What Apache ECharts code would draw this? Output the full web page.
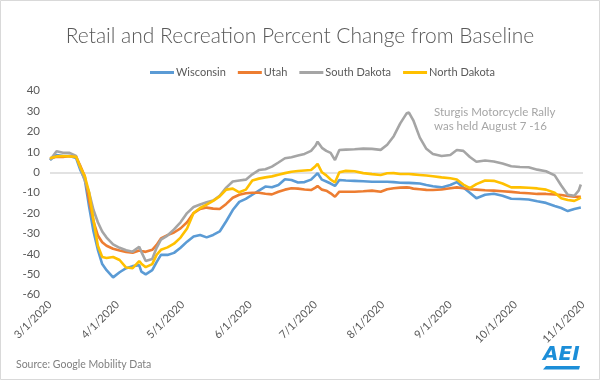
<!DOCTYPE html>
<html>
<head>
<meta charset="utf-8">
<script src="https://cdn.jsdelivr.net/npm/echarts@6/dist/echarts.min.js"></script>
<style>html,body{margin:0;padding:0;background:#fff}#c{width:600px;height:380px}</style>
</head>
<body>
<div id="c"></div>
<script>
// Days since 3/1/2020 at which values were read
var dayOffsets = [0,3,6,9,12,14,16,18,20,22,24,26,29,32,35,38,41,42,44,47,49,51,54,57,60,63,66,69,72,75,78,81,84,87,90,93,96,99,102,105,108,111,114,117,120,122,123,125,127,129,131,133,136,140,144,148,152,155,158,161,164,165,167,170,173,176,180,184,187,190,193,196,200,204,208,212,216,220,224,228,232,235,238,241,243,244];

var wisconsin = [6,8.5,8,8,7,1,-3.5,-17,-29,-38,-45,-48,-51.5,-49,-47,-46,-45.5,-48.7,-50,-48,-44,-40.5,-40.5,-39.5,-37,-34,-31.5,-30.7,-31.9,-30.7,-29,-24,-18.5,-14.5,-13,-11,-9,-7,-7.3,-6.2,-3.4,-3.8,-5,-4.8,-3.6,-1.5,-0.5,-3.6,-4.5,-5.5,-6.7,-3.8,-4,-4.2,-4.4,-4.6,-4.6,-4.6,-4.8,-5.1,-5.2,-5.2,-5.3,-5.5,-6.2,-6.8,-7.4,-6.2,-4.8,-7.5,-10,-12.7,-11,-10.5,-11.5,-13,-13.1,-13.3,-14.2,-15,-16.5,-17.5,-19,-18,-17.5,-17.3];

var utah = [6.9,7.6,7.5,8,7.5,3,-2,-14,-24,-31,-34.3,-36,-37.5,-38.3,-39,-39.4,-38.3,-38.6,-39,-38,-35.6,-32.4,-30.8,-29.5,-27.5,-24.5,-20,-18,-17.3,-17.8,-18,-15.5,-12.5,-11,-10.3,-10,-10,-10.5,-10.8,-9.5,-8.5,-7.8,-8,-8.4,-8.7,-7.5,-6.7,-8.5,-9,-10.3,-12,-9.5,-9.5,-9.5,-9.3,-9,-9.5,-8.3,-7.8,-7.5,-7.4,-7.5,-8,-8.3,-8.6,-8.7,-8.4,-7.8,-7.4,-7.8,-8.3,-8.5,-8.8,-9,-9.3,-9.6,-10,-10.3,-10.6,-10.6,-10.9,-11.1,-11.6,-12,-12,-12];

var southDakota = [6,10.3,9.6,9.5,8,2,-4,-10,-18.5,-24.5,-29,-32,-35.3,-37,-38.2,-38.9,-36.5,-39,-43.5,-42.5,-37,-33,-31,-28,-24.5,-20,-17,-15.8,-14.7,-13.8,-11.5,-7.5,-4.5,-4,-3.6,-1,1.1,1.5,2.8,4.8,6.9,7.4,8.2,9,10.5,13,15,12,10.5,9.5,6,10.9,11.1,11.3,11.6,11.5,11,13.5,17.7,24,29,29.3,25.5,17,11.5,9,8,8.5,10.9,10.5,7.5,5.2,5.8,5.3,4.3,3,2.6,2.5,1.3,0.5,-1.5,-6.5,-11,-11.5,-9,-6];

var northDakota = [6.9,7.8,8,7.8,7.6,2.5,-2,-10,-23.5,-36,-41.5,-42,-41.5,-43,-46.7,-47,-43.5,-44.8,-46.5,-45,-40.5,-38,-36.8,-35,-32,-27.5,-20,-17.5,-15.8,-14,-11.8,-8.5,-8,-9.8,-8.5,-4,-3.1,-2.5,-2,-1.2,-0.4,0.3,0.6,0.9,1.1,3,4.1,0,-1.5,-3.5,-5,0,0.7,0.5,-0.4,-0.9,-1.3,-0.5,-0.4,-0.8,-0.8,-0.8,-1,-1.3,-1.6,-1.9,-2.5,-2.9,-3.5,-6,-7.8,-5.8,-4,-4.2,-5.5,-7.4,-7.4,-7.6,-7.9,-8.5,-10,-12.7,-13.6,-14,-13,-12.3];

var seriesNames = ['Wisconsin','Utah','South Dakota','North Dakota'];
var seriesColors = ['#5B9BD5','#ED7D31','#A5A5A5','#FFC000'];
var xTickLabels = ['3/1/2020','4/1/2020','5/1/2020','6/1/2020','7/1/2020','8/1/2020','9/1/2020','10/1/2020','11/1/2020'];
var yTicks = [-60,-50,-40,-30,-20,-10,0,10,20,30,40];

function parseMDY(s){var p=s.split('/');return new Date(+p[2],+p[0]-1,+p[1]).getTime();}
var start = parseMDY('3/1/2020');
function dayTs(d){var t=new Date(start);t.setDate(t.getDate()+d);return t.getTime();}
var tickTs = xTickLabels.map(parseMDY);
var labelByTs = {};
tickTs.forEach(function(t,i){labelByTs[t]=xTickLabels[i];});
function pairs(vals){return vals.map(function(v,i){return [dayTs(dayOffsets[i]),v];});}
var allVals = [wisconsin,utah,southDakota,northDakota];

var font = 'Lato, "Open Sans", sans-serif';
var chart = echarts.init(document.getElementById('c'), null, {renderer:'canvas'});
var series = allVals.map(function(vals,i){
  var s = {
    name: seriesNames[i], type:'line', data: pairs(vals), showSymbol:false, symbol:'none',
    lineStyle:{width:2.6,color:seriesColors[i]}, itemStyle:{color:seriesColors[i]},
    smooth:false, z: 2+i, animation:false
  };
  if(i===0){
    s.markLine = {silent:true, symbol:['none','none'], label:{show:false},
      lineStyle:{color:'#D9D9D9',width:1.5,type:'solid'}, data:[{yAxis:0}], z:1};
  }
  return s;
});

chart.setOption({
  animation:false,
  backgroundColor:'#fff',
  title:{text:'Retail and Recreation Percent Change from Baseline', left:'center', top:21,
    textStyle:{fontFamily:font, fontWeight:300, fontSize:21, color:'#595959'}},
  legend:{data:seriesNames, left:145, top:62, itemWidth:24, itemHeight:3, itemGap:12, icon:'rect',
    textStyle:{fontFamily:font, fontSize:11, color:'#595959', padding:[0,0,0,-3]}},
  grid:{left:50, right:17, top:90.7, bottom:85.3},
  xAxis:{type:'value', min:tickTs[0], max:tickTs[tickTs.length-1],
    axisLine:{show:false}, axisTick:{show:false}, splitLine:{show:false},
    axisLabel:{rotate:45, margin:8, fontFamily:font, fontSize:11, color:'#595959',
      customValues: tickTs,
      formatter:function(v){return labelByTs[v]!==undefined?labelByTs[v]:'';}}
  },
  yAxis:{type:'value', min:yTicks[0], max:yTicks[yTicks.length-1], interval:10,
    axisLine:{show:false}, axisTick:{show:false}, splitLine:{show:false},
    axisLabel:{margin:10, fontFamily:font, fontSize:11.5, color:'#595959'}},
  graphic:[
    {type:'rect', shape:{x:0.5,y:0.5,width:599,height:379}, style:{fill:'none',stroke:'#D9D9D9',lineWidth:1}, silent:true},
    {type:'text', left:434, top:106, style:{text:'Sturgis Motorcycle Rally\nwas held August 7 -16', fontFamily:font, fontSize:11.5, lineHeight:13.5, fill:'#A6A6A6'}},
    {type:'text', left:16, top:359, style:{text:'Source: Google Mobility Data', fontFamily:font, fontSize:10.5, fill:'#7F7F7F'}},
    {type:'text', left:543, top:345, style:{text:'AEI', fontFamily:'"DejaVu Sans", sans-serif', fontStyle:'italic', fontWeight:'bold', fontSize:20, fill:'#1C8ED8'}},
    {type:'polygon', shape:{points:[[546,366],[580,366],[579,369.5],[543,369.5]]}, style:{fill:'#1C8ED8'}, silent:true}
  ],
  series: series
});
</script>
</body>
</html>
